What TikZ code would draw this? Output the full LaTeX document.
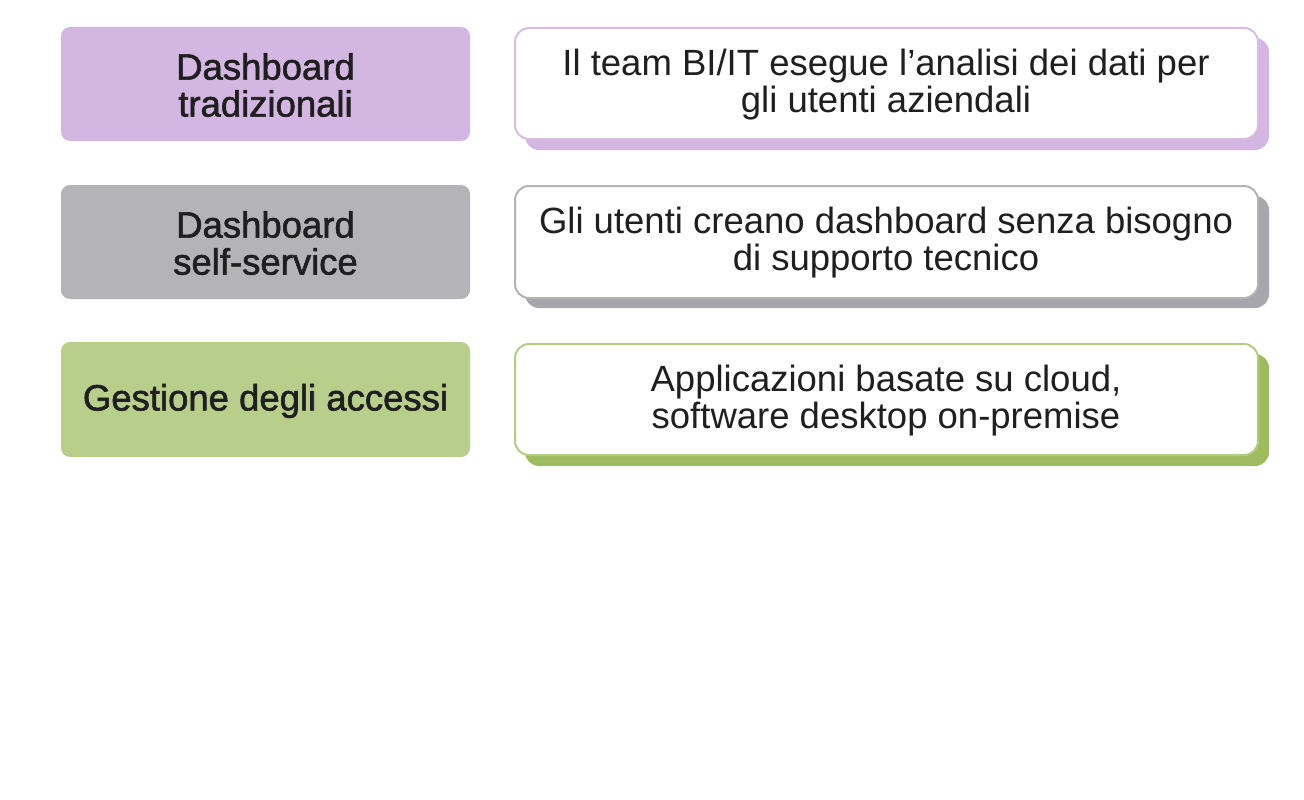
\documentclass[tikz,border=0pt]{standalone}
\usepackage{fontspec}
\setmainfont{Liberation Sans}
\newfontfamily\medfont[FakeBold=1.6]{Liberation Sans}
\begin{document}
\begin{tikzpicture}[x=1pt,y=-1pt,
 lbox/.style={rounded corners=9pt,draw=none},
 rbox/.style={rounded corners=14pt,fill=white,line width=2pt},
 sh/.style={rounded corners=14pt},
 ltxt/.style={font=\medfont\fontsize{36.5}{37}\selectfont,align=center,text=black!88},
 rtxt/.style={font=\fontsize{36.5}{37}\selectfont,align=center,text=black!88}]
\useasboundingbox (0,0) rectangle (1304,800);
\definecolor{pA}{HTML}{D4B6E2}\definecolor{gA}{HTML}{B4B4B8}\definecolor{nA}{HTML}{B8CF8C}
\definecolor{pS}{HTML}{D4B6E2}\definecolor{gS}{HTML}{A6A6AC}\definecolor{nS}{HTML}{9EBC5E}
\definecolor{pB}{HTML}{D8BCE4}\definecolor{gB}{HTML}{B4B4B8}\definecolor{nB}{HTML}{B2CC84}
% row 1
\fill[lbox,pA] (61,27) rectangle (470,141);
\node[ltxt] (l1) at (265.5,85) {Dashboard\\tradizionali};
\fill[sh,pS] (525,38) rectangle (1269,150);
\draw[rbox,draw=pB] (515,28) rectangle (1258,139);
\node[rtxt] (r1) at (886,85) {Il team BI/IT esegue l'analisi dei dati per\\gli utenti aziendali};
% row 2
\fill[lbox,gA] (61,185) rectangle (470,299);
\node[ltxt] (l2) at (265.5,243) {Dashboard\\self-service};
\fill[sh,gS] (525,196) rectangle (1269,308);
\draw[rbox,draw=gB] (515,186) rectangle (1258,298);
\node[rtxt] (r2) at (886,243) {Gli utenti creano dashboard senza bisogno\\di supporto tecnico};
% row 3
\fill[lbox,nA] (61,342) rectangle (470,457);
\node[ltxt] (l3) at (265.5,401) {Gestione degli accessi};
\fill[sh,nS] (525,354) rectangle (1269,466);
\draw[rbox,draw=nB] (515,344) rectangle (1258,455);
\node[rtxt] (r3) at (886,401) {Applicazioni basate su cloud,\\software desktop on-premise};
\end{tikzpicture}
\end{document}
